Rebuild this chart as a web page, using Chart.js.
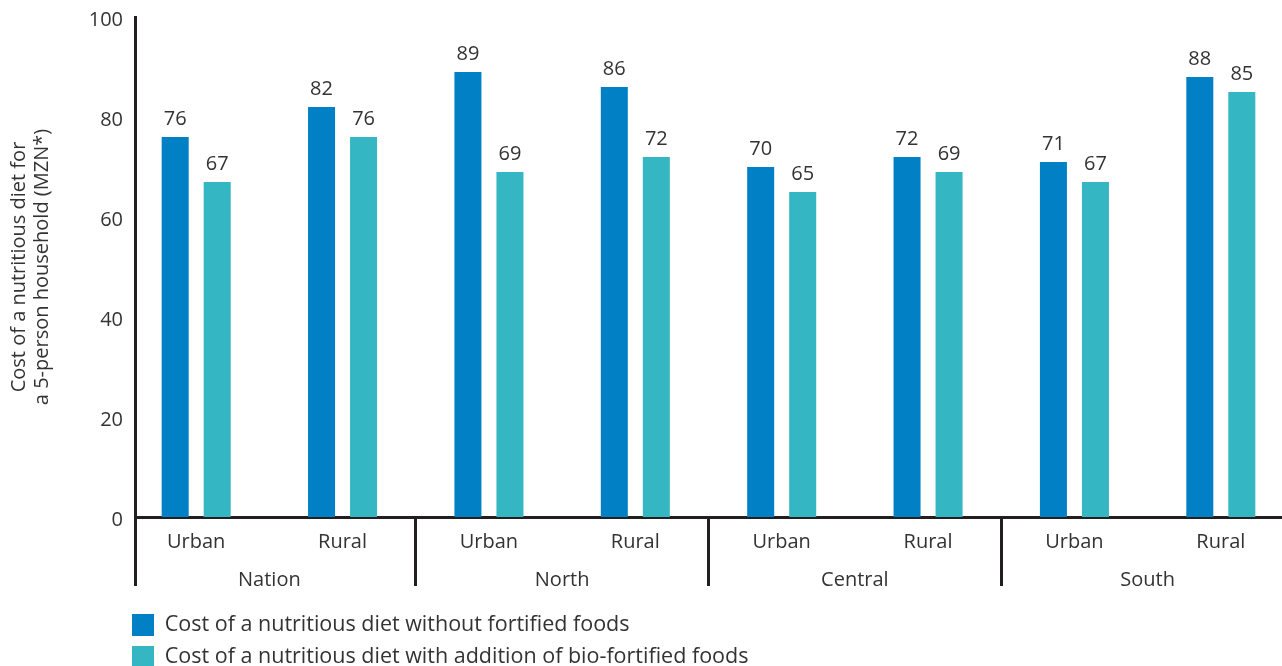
<!DOCTYPE html>
<html>
<head>
<meta charset="utf-8">
<script src="https://cdn.jsdelivr.net/npm/chart.js@4/dist/chart.umd.min.js"></script>
<style>
  html, body { margin: 0; padding: 0; background: #ffffff; overflow: hidden; }
  #wrap { width: 1282px; height: 666px; }
</style>
</head>
<body>
<div id="wrap"><canvas id="c" width="1282" height="666"></canvas></div>
<script>
// Sub-category (one bar pair each) and the region each pair of sub-categories belongs to
const SUBCATS = ['Urban', 'Rural', 'Urban', 'Rural', 'Urban', 'Rural', 'Urban', 'Rural'];
const REGIONS = ['Nation', 'North', 'Central', 'South'];

// Cost of a nutritious diet for a 5-person household (MZN*)
const WITHOUT_FORTIFIED = [76, 82, 89, 86, 70, 72, 71, 88];
const WITH_BIOFORTIFIED = [67, 76, 69, 72, 65, 69, 67, 85];

const SERIES_LABELS = [
  'Cost of a nutritious diet without fortified foods',
  'Cost of a nutritious diet with addition of bio-fortified foods'
];
const Y_TICKS = [0, 20, 40, 60, 80, 100];
const Y_TITLE = ['Cost of a nutritious diet for', 'a 5-person household (MZN*)'];

const INK = '#231f20';
const TEXT = '#333333';
const FONT = "'Open Sans', 'Noto Sans', sans-serif";
const DARK_BLUE = '#0180c5';
const TEAL = '#35b6c3';

// The y axis sits a little inside the first slot, and the last slot runs past the right edge
const EDGE_TRIM = 0.082;

Chart.defaults.font.family = FONT;
Chart.defaults.color = TEXT;

const toPoints = (arr) => arr.map((v, i) => ({ x: i, y: v }));

// Value labels above each bar
const valueLabels = {
  id: 'valueLabels',
  afterDatasetsDraw(chart) {
    const ctx = chart.ctx;
    ctx.save();
    ctx.fillStyle = TEXT;
    ctx.font = `20px ${FONT}`;
    ctx.textAlign = 'center';
    ctx.textBaseline = 'middle';
    chart.data.datasets.forEach((ds, di) => {
      chart.getDatasetMeta(di).data.forEach((bar, i) => {
        ctx.fillText(String(ds.data[i].y), bar.x, bar.y - 18);
      });
    });
    ctx.restore();
  }
};

// Second tier of the x axis: region names and the dividers between regions
const groupAxis = {
  id: 'groupAxis',
  afterDraw(chart) {
    const xs = chart.scales.x;
    const area = chart.chartArea;
    const ctx = chart.ctx;
    const top = area.bottom;
    const bottom = area.bottom + 69;
    const crisp = (p) => Math.round(p - 0.5) + 0.5;
    ctx.save();
    ctx.strokeStyle = INK;
    ctx.lineWidth = 3;
    ctx.beginPath();
    ctx.moveTo(crisp(area.left), top);
    ctx.lineTo(crisp(area.left), bottom);
    for (let g = 1; g < REGIONS.length; g++) {
      const px = crisp(xs.getPixelForValue(2 * g - 0.5));
      ctx.moveTo(px, top);
      ctx.lineTo(px, bottom);
    }
    ctx.stroke();
    ctx.fillStyle = TEXT;
    ctx.font = `20px ${FONT}`;
    ctx.textAlign = 'center';
    ctx.textBaseline = 'middle';
    REGIONS.forEach((r, g) => {
      ctx.fillText(r, xs.getPixelForValue(2 * g + 0.5), area.bottom + 63);
    });
    ctx.restore();
  }
};

// Legend laid out as one entry per row, starting under the y axis
const legendRows = {
  id: 'legendRows',
  beforeLayout(chart) {
    const lg = chart.legend;
    if (lg && !lg._rowsPatched) {
      const fit = lg.fit;
      lg.fit = function () { fit.call(this); this.height = 62; };
      lg._rowsPatched = true;
    }
  },
  afterLayout(chart) {
    const lg = chart.legend;
    lg.left = chart.chartArea.left - 13;
    lg.width = 800;
    lg.right = lg.left + lg.width;
  }
};

new Chart(document.getElementById('c'), {
  type: 'bar',
  data: {
    datasets: [
      {
        label: SERIES_LABELS[0],
        data: toPoints(WITHOUT_FORTIFIED),
        backgroundColor: DARK_BLUE,
        borderWidth: 0,
        categoryPercentage: 0.574,
        barPercentage: 0.643
      },
      {
        label: SERIES_LABELS[1],
        data: toPoints(WITH_BIOFORTIFIED),
        backgroundColor: TEAL,
        borderWidth: 0,
        categoryPercentage: 0.574,
        barPercentage: 0.643
      }
    ]
  },
  options: {
    responsive: false,
    animation: false,
    layout: { padding: { top: 17, left: 0, right: 0, bottom: 0 } },
    scales: {
      x: {
        type: 'linear',
        offset: false,
        min: -0.5 + EDGE_TRIM,
        max: SUBCATS.length - 0.5 - EDGE_TRIM,
        afterBuildTicks: (scale) => { scale.ticks = SUBCATS.map((_, i) => ({ value: i })); },
        afterFit: (scale) => { scale.height = 87; },
        grid: { display: false, drawTicks: false, offset: false },
        border: { display: true, color: INK, width: 3 },
        ticks: {
          autoSkip: false,
          maxRotation: 0,
          padding: 13,
          color: TEXT,
          font: { size: 20 },
          callback: (v) => SUBCATS[v]
        }
      },
      y: {
        min: 0,
        max: 100,
        afterBuildTicks: (scale) => { scale.ticks = Y_TICKS.map(v => ({ value: v })); },
        afterFit: (scale) => { scale.width = 135; scale.paddingTop = 0; },
        grid: { display: false, drawTicks: false },
        border: { display: true, color: INK, width: 3 },
        ticks: {
          padding: 12,
          labelOffset: 3,
          color: TEXT,
          font: { size: 20 }
        },
        title: {
          display: true,
          text: Y_TITLE,
          color: TEXT,
          font: { size: 20, lineHeight: 1.15 },
          padding: { top: 8, bottom: 0 }
        }
      }
    },
    plugins: {
      legend: {
        display: true,
        position: 'bottom',
        align: 'start',
        labels: {
          boxWidth: 22,
          boxHeight: 22,
          padding: 10,
          color: TEXT,
          font: { size: 21.5 }
        }
      },
      tooltip: { enabled: false }
    }
  },
  plugins: [valueLabels, groupAxis, legendRows]
});
</script>
</body>
</html>
